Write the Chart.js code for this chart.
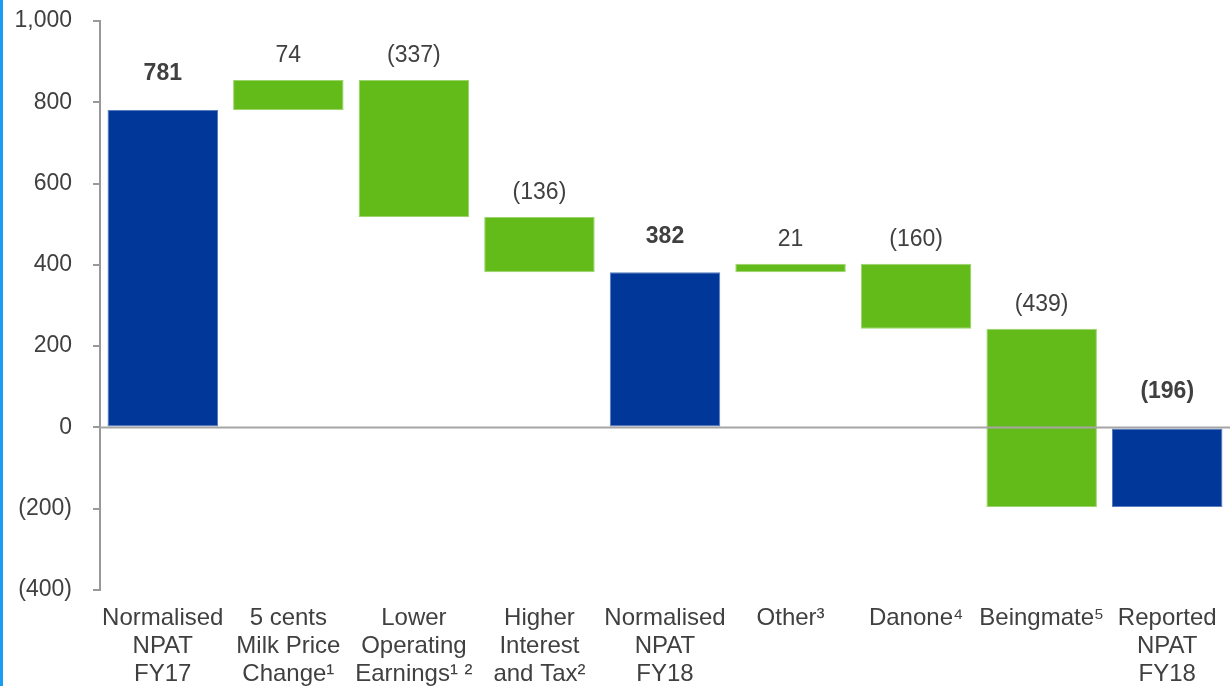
<!DOCTYPE html>
<html>
<head>
<meta charset="utf-8">
<script src="https://cdn.jsdelivr.net/npm/chart.js@4"></script>
<style>
  html, body { margin: 0; padding: 0; background: #fff; }
  #wrap { position: relative; width: 1230px; height: 686px; }
  #edge { position: absolute; left: 0; top: 0; width: 3px; height: 686px; background: #1a9cf5; }
</style>
</head>
<body>
<div id="wrap">
  <canvas id="chart" width="1230" height="686"></canvas>
  <div id="edge"></div>
</div>
<script>
// Данные графика
const categories = [
  ['Normalised', 'NPAT', 'FY17'],
  ['5 cents', 'Milk Price', 'Change¹'],
  ['Lower', 'Operating', 'Earnings¹ ²'],
  ['Higher', 'Interest', 'and Tax²'],
  ['Normalised', 'NPAT', 'FY18'],
  ['Other³'],
  ['Danone⁴'],
  ['Beingmate⁵'],
  ['Reported', 'NPAT', 'FY18'],
];
const values = [781, 74, -337, -136, 382, 21, -160, -439, -196];
const isTotal = [true, false, false, false, true, false, false, false, true];
const yTicks = [-400, -200, 0, 200, 400, 600, 800, 1000];

const BLUE = '#003798';
const GREEN = '#63bb1a';
const TEXT = '#404040';
const FONT = "'Liberation Sans', Arial, sans-serif";

function fmt(v) {
  const s = Math.abs(v).toLocaleString('en-US');
  return v < 0 ? '(' + s + ')' : s;
}

// Собираем плавающие бары (начало/конец) из значений
let running = 0;
const floating = values.map((v, i) => {
  if (isTotal[i]) {
    running = v;
    return [0, v];
  }
  const start = running;
  running += v;
  return [start, running];
});

// Линия нуля и подписи над барами
const waterfallPlugin = {
  id: 'waterfall',
  afterDatasetsDraw(chart) {
    const { ctx, chartArea, scales } = chart;
    const y0 = scales.y.getPixelForValue(0);
    ctx.save();
    ctx.strokeStyle = '#a6a6a6';
    ctx.lineWidth = 2;
    ctx.beginPath();
    ctx.moveTo(chartArea.left, y0);
    ctx.lineTo(chartArea.right, y0);
    ctx.stroke();

    const meta = chart.getDatasetMeta(0);
    ctx.fillStyle = TEXT;
    ctx.textAlign = 'center';
    ctx.textBaseline = 'middle';
    meta.data.forEach((bar, i) => {
      const top = Math.min(bar.y, bar.base, y0);
      const off = isTotal[i] ? 36 : 24;
      ctx.font = (isTotal[i] ? 'bold ' : '') + '23px ' + FONT;
      ctx.fillText(fmt(values[i]), bar.x, top - off);
    });
    ctx.restore();
  },
};

new Chart(document.getElementById('chart').getContext('2d'), {
  type: 'bar',
  data: {
    labels: categories,
    datasets: [{
      data: floating,
      backgroundColor: isTotal.map((t) => (t ? BLUE : GREEN)),
      borderColor: isTotal.map((t) => (t ? '#5a7cc0' : '#9ad46a')),
      borderWidth: 1,
      borderSkipped: false,
      categoryPercentage: 1,
      barPercentage: 0.88,
    }],
  },
  options: {
    responsive: false,
    animation: false,
    layout: { padding: { top: 21, right: 0, left: 0, bottom: 0 } },
    plugins: {
      legend: { display: false },
      tooltip: { enabled: false },
    },
    scales: {
      x: {
        grid: { display: false },
        border: { display: false },
        ticks: {
          color: TEXT,
          font: { family: FONT, size: 24, lineHeight: 1.15 },
          maxRotation: 0,
          autoSkip: false,
          padding: 7,
        },
        afterFit(scale) {
          scale.height = 96;
          scale.paddingLeft = 0;
          scale.paddingRight = 0;
        },
      },
      y: {
        min: -400,
        max: 1000,
        afterBuildTicks(scale) { scale.ticks = yTicks.map((v) => ({ value: v })); },
        grid: { drawOnChartArea: false, drawTicks: true, tickLength: 7, color: '#999', lineWidth: 2 },
        border: { display: true, color: '#999', width: 2 },
        ticks: {
          color: TEXT,
          font: { family: FONT, size: 23 },
          padding: 21,
          callback: (v) => fmt(v),
        },
        afterFit(scale) {
          scale.width = 100;
          scale.paddingTop = 0;
          scale.paddingBottom = 0;
        },
      },
    },
  },
  plugins: [waterfallPlugin],
});
</script>
</body>
</html>
